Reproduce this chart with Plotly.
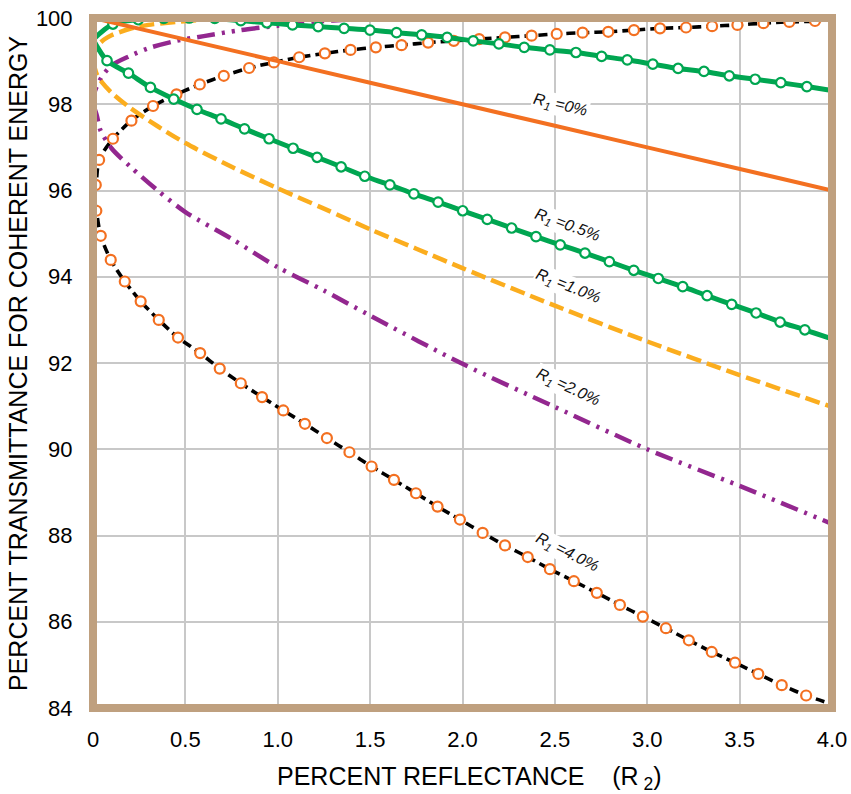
import plotly.graph_objects as go

# ---------------------------------------------------------------------------
# Percent transmittance for coherent energy vs. reflectance R2 (%),
# one family of curves per front-surface reflectance R1.
# ---------------------------------------------------------------------------

# R1 = 0 %  (straight line)
r0_x = [0.0, 1.0, 2.0, 3.0, 4.0]
r0_y = [100.0, 99.0, 98.0, 97.0, 96.0]

# R1 = 0.5 %, lower branch (minimum transmittance)
r05_lo_x = [0.000, 0.076, 0.192, 0.311, 0.437, 0.563, 0.693, 0.820, 0.953, 1.083,
            1.213, 1.343, 1.471, 1.607, 1.737, 1.868, 2.001, 2.134, 2.266, 2.398,
            2.529, 2.663, 2.795, 2.927, 3.060, 3.192, 3.324, 3.457, 3.589, 3.719,
            3.853, 4.000]
r05_lo_y = [99.50, 99.01, 98.72, 98.39, 98.12, 97.88, 97.66, 97.43, 97.20, 96.98,
            96.77, 96.55, 96.33, 96.13, 95.92, 95.73, 95.53, 95.33, 95.13, 94.93,
            94.74, 94.55, 94.35, 94.15, 93.96, 93.77, 93.56, 93.36, 93.16, 92.95,
            92.77, 92.56]

# R1 = 0.5 %, upper branch (maximum transmittance)
r05_hi_x = [0.000, 0.108, 0.245, 0.383, 0.521, 0.659, 0.800, 0.941, 1.080, 1.219,
            1.359, 1.499, 1.643, 1.779, 1.917, 2.058, 2.197, 2.334, 2.473, 2.614,
            2.753, 2.892, 3.030, 3.167, 3.307, 3.444, 3.584, 3.723, 3.864, 4.000]
r05_hi_y = [99.50, 99.86, 99.96, 99.99, 100.00, 99.99, 99.94, 99.89, 99.84, 99.80,
            99.76, 99.72, 99.66, 99.61, 99.55, 99.47, 99.40, 99.32, 99.26, 99.20,
            99.11, 99.03, 98.93, 98.83, 98.76, 98.66, 98.58, 98.50, 98.41, 98.32]

# R1 = 1.0 %
r1_lo_x = [0.00, 0.02, 0.05, 0.10, 0.20, 0.35, 0.50, 0.75, 1.00, 1.25,
           1.50, 1.75, 2.00, 2.50, 3.00, 3.50, 4.00]
r1_lo_y = [99.00, 98.70, 98.50, 98.27, 97.92, 97.49, 97.10, 96.55, 96.05, 95.58,
           95.10, 94.65, 94.20, 93.33, 92.50, 91.72, 90.98]
r1_hi_x = [0.00, 0.01, 0.03, 0.06, 0.10, 0.20, 0.30, 0.45, 0.60, 0.80, 1.00]
r1_hi_y = [99.00, 99.22, 99.38, 99.50, 99.60, 99.75, 99.84, 99.91, 99.96, 100.00, 100.00]

# R1 = 2.0 %
r2_lo_x = [0.00, 0.02, 0.04, 0.10, 0.20, 0.35, 0.50, 0.75, 1.00, 1.25,
           1.50, 2.00, 2.50, 3.00, 3.50, 4.00]
r2_lo_y = [98.00, 97.75, 97.40, 96.98, 96.56, 96.00, 95.50, 94.88, 94.22, 93.68,
           93.10, 91.98, 90.98, 90.00, 89.15, 88.27]
r2_hi_x = [0.00, 0.01, 0.03, 0.05, 0.10, 0.20, 0.30, 0.45, 0.60, 0.80,
           1.00, 1.20, 1.40, 1.60, 1.80]
r2_hi_y = [98.00, 98.30, 98.50, 98.65, 98.90, 99.12, 99.30, 99.47, 99.58, 99.72,
           99.82, 99.91, 99.97, 100.00, 100.00]

# R1 = 4.0 %, lower branch
r4_lo_x = [0.000, 0.018, 0.042, 0.096, 0.172, 0.258, 0.356, 0.460, 0.580, 0.686,
           0.800, 0.915, 1.030, 1.147, 1.266, 1.388, 1.508, 1.629, 1.748, 1.865,
           1.986, 2.109, 2.230, 2.353, 2.473, 2.603, 2.727, 2.852, 2.976, 3.101,
           3.225, 3.349, 3.475, 3.601, 3.728, 3.860, 4.000]
r4_lo_y = [96.00, 95.53, 94.95, 94.39, 93.89, 93.43, 93.00, 92.59, 92.23, 91.87,
           91.53, 91.21, 90.90, 90.59, 90.26, 89.93, 89.60, 89.29, 88.98, 88.67,
           88.37, 88.06, 87.77, 87.50, 87.22, 86.94, 86.67, 86.39, 86.12, 85.85,
           85.57, 85.30, 85.05, 84.79, 84.53, 84.29, 84.09]

# R1 = 4.0 %, upper branch
r4_hi_x = [0.000, 0.015, 0.033, 0.108, 0.208, 0.325, 0.452, 0.578, 0.708, 0.845,
           0.979, 1.116, 1.255, 1.394, 1.531, 1.670, 1.814, 1.953, 2.090, 2.230,
           2.374, 2.510, 2.650, 2.789, 2.928, 3.069, 3.210, 3.351, 3.488, 3.629,
           3.769, 3.908, 4.000]
r4_hi_y = [96.00, 96.13, 96.71, 97.20, 97.62, 97.96, 98.23, 98.46, 98.66, 98.84,
           98.97, 99.09, 99.18, 99.26, 99.32, 99.37, 99.43, 99.47, 99.51, 99.55,
           99.59, 99.63, 99.66, 99.68, 99.72, 99.76, 99.78, 99.81, 99.84, 99.88,
           99.91, 99.93, 100.00]

x_tick_vals = [0, 0.5, 1.0, 1.5, 2.0, 2.5, 3.0, 3.5, 4.0]
x_tick_text = ["0", "0.5", "1.0", "1.5", "2.0", "2.5", "3.0", "3.5", "4.0"]
y_tick_vals = [84, 86, 88, 90, 92, 94, 96, 98, 100]

curve_labels = ["0%", "0.5%", "1.0%", "2.0%", "4.0%"]

# --------------------------------------------------------------------------
FONT = "Liberation Sans, Arial, sans-serif"
ORANGE = "#F37021"
GREEN = "#00A651"
AMBER = "#FBAD1E"
PURPLE = "#93278F"
FRAME = "#BFA07F"

fig = go.Figure()


def add_line(x, y, color, width, dash="solid"):
    fig.add_trace(go.Scatter(
        x=x, y=y, mode="lines",
        line=dict(color=color, width=width, dash=dash, shape="spline", smoothing=0.8),
        hoverinfo="skip", showlegend=False))


def add_dots(x, y, color, size):
    fig.add_trace(go.Scatter(
        x=x, y=y, mode="markers",
        marker=dict(symbol="circle", size=size, color="white",
                    line=dict(color=color, width=2.2)),
        hoverinfo="skip", showlegend=False))


# R1 = 4 %: black dashes with open orange circles
add_line(r4_lo_x, r4_lo_y, "black", 3.6, "9px,5px")
add_line(r4_hi_x, r4_hi_y, "black", 3.6, "9px,5px")
add_dots(r4_lo_x[1:-1], r4_lo_y[1:-1], ORANGE, 10)
add_dots(r4_hi_x[1:-1], r4_hi_y[1:-1], ORANGE, 10)

# R1 = 2 %: purple dash-dot-dot
add_line(r2_lo_x, r2_lo_y, PURPLE, 4.5, "18px,7px,3px,7px,3px,7px")
add_line(r2_hi_x, r2_hi_y, PURPLE, 4.5, "18px,7px,3px,7px,3px,7px")

# R1 = 1 %: amber dashes
add_line(r1_lo_x, r1_lo_y, AMBER, 4.5, "15px,6px")
add_line(r1_hi_x, r1_hi_y, AMBER, 4.5, "15px,6px")

# R1 = 0.5 %: green with open circles
add_line(r05_lo_x, r05_lo_y, GREEN, 5)
add_line(r05_hi_x, r05_hi_y, GREEN, 5)
add_dots(r05_lo_x[1:-1], r05_lo_y[1:-1], GREEN, 9.5)
add_dots(r05_hi_x[1:-1], r05_hi_y[1:-1], GREEN, 9.5)

# R1 = 0 %: solid orange
add_line(r0_x, r0_y, ORANGE, 4)

# Curve labels placed along each family
label_pos = [(2.533, 97.98, 13), (2.568, 95.18, 20), (2.571, 93.77, 22),
             (2.571, 91.43, 25), (2.565, 87.60, 27)]
for txt, (lx, ly, ang) in zip(curve_labels, label_pos):
    fig.add_annotation(
        x=lx, y=ly, xref="x", yref="y", showarrow=False,
        text="<i>R<sub>1</sub> =" + txt + "</i>", textangle=ang,
        font=dict(family=FONT, size=16, color="#111111"),
        bgcolor="white", borderpad=1)

# Axis titles
fig.add_annotation(
    x=0.2459, y=-0.101, xref="paper", yref="paper", xanchor="left", yanchor="middle",
    showarrow=False,
    text="PERCENT REFLECTANCE\u00a0\u00a0\u00a0\u00a0(R<sub>\u00a02</sub>)",
    font=dict(family=FONT, size=25, color="black"))
fig.add_annotation(
    x=-0.1015, y=0.5, xref="paper", yref="paper", xanchor="center", yanchor="middle",
    showarrow=False, textangle=-90,
    text="PERCENT TRANSMITTANCE FOR COHERENT ENERGY",
    font=dict(family=FONT, size=25, color="black"))

# Frame drawn over the plot edges
fig.add_shape(type="rect", xref="paper", yref="paper", x0=0, x1=1, y0=0, y1=1,
              line=dict(color=FRAME, width=8), layer="above")

fig.update_xaxes(
    range=[0, 4], tickvals=x_tick_vals, ticktext=x_tick_text, automargin=False,
    showgrid=True, gridcolor="#C8C8C8", gridwidth=1.5, zeroline=False,
    showline=False, ticks="outside", ticklen=12, tickcolor="rgba(0,0,0,0)",
    tickfont=dict(family=FONT, size=22, color="black"))
fig.update_yaxes(
    range=[84, 100], tickvals=y_tick_vals, automargin=False,
    showgrid=True, gridcolor="#C8C8C8", gridwidth=1.5, zeroline=False,
    showline=False, ticks="outside", ticklen=15, tickcolor="rgba(0,0,0,0)",
    tickfont=dict(family=FONT, size=22, color="black"))

fig.update_layout(
    width=851, height=794,
    margin=dict(l=93, r=19, t=18, b=86, autoexpand=False),
    paper_bgcolor="white", plot_bgcolor="white",
    showlegend=False)

fig.write_html("out.html")
